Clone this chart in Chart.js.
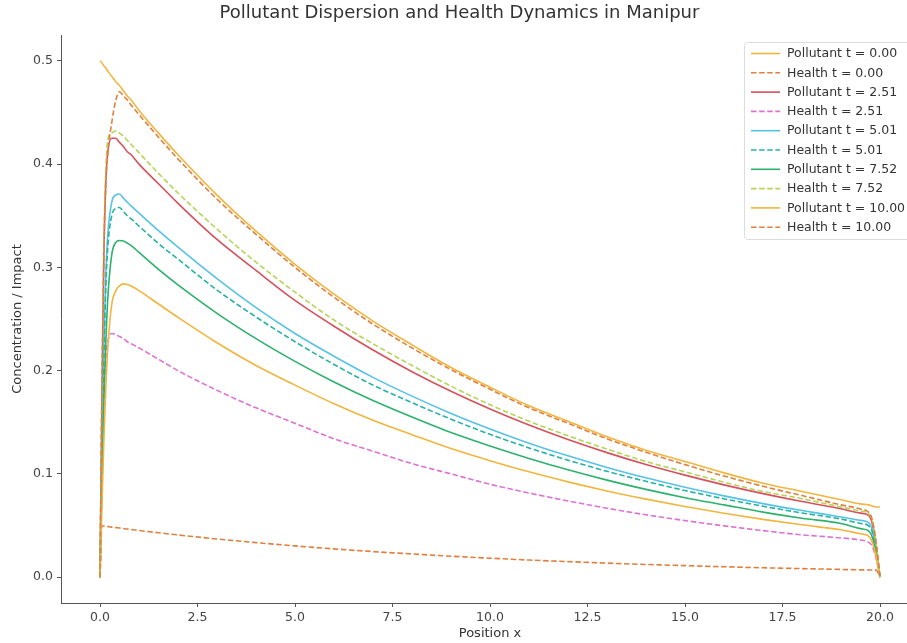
<!DOCTYPE html>
<html>
<head>
<meta charset="utf-8">
<script src="https://cdn.jsdelivr.net/npm/chart.js@4.4.1/dist/chart.umd.min.js"></script>
<style>
  html, body { margin: 0; padding: 0; background: #fff; overflow: hidden; }
  #wrap { width: 907px; height: 643px; overflow: hidden; }
  canvas { display: block; }
</style>
</head>
<body>
<div id="wrap"><canvas id="chart" width="943" height="643"></canvas></div>
<script>
// positions along x shared by every series
const positions = [0, 0.05, 0.1, 0.15, 0.2, 0.3, 0.4, 0.5, 0.6, 0.7, 0.8, 1, 1.5, 2, 3, 4, 5, 6, 7, 8, 9, 10,
    11, 12, 13, 14, 15, 16, 17, 18, 19, 19.5, 19.7, 19.8, 19.9, 20];

const pollutant0 = [0.500, 0.498, 0.495, 0.493, 0.490, 0.485, 0.480, 0.476, 0.471, 0.466, 0.462, 0.452, 0.430, 0.409,
    0.370, 0.335, 0.303, 0.274, 0.248, 0.225, 0.203, 0.184, 0.166, 0.151, 0.136, 0.123, 0.112, 0.101, 0.091, 0.083,
    0.075, 0.071, 0.070, 0.069, 0.068, 0.068];
const health0 = [0, 0.0498, 0.0495, 0.0493, 0.049, 0.0485, 0.048, 0.0476, 0.0471, 0.0466, 0.0462, 0.0452, 0.043, 0.0409,
    0.037, 0.0335, 0.0303, 0.0274, 0.0248, 0.0225, 0.0203, 0.0184, 0.0166, 0.0151, 0.0136, 0.0123, 0.0112, 0.0101,
    0.0091, 0.0083, 0.0075, 0.0071, 0.007, 0.0069, 0.0068, 0];
const pollutant251 = [0, 0.176, 0.315, 0.384, 0.412, 0.425, 0.425, 0.421, 0.417, 0.412, 0.409, 0.400, 0.381, 0.362,
    0.327, 0.297, 0.268, 0.243, 0.220, 0.199, 0.180, 0.1628, 0.1473, 0.1333, 0.1206, 0.1091, 0.0988, 0.0894, 0.0809,
    0.0732, 0.0662, 0.062, 0.060, 0.052, 0.030, 0];
const health251 = [0, 0.098, 0.175, 0.212, 0.228, 0.236, 0.235, 0.233, 0.231, 0.228, 0.226, 0.222, 0.211, 0.200,
    0.181, 0.164, 0.149, 0.134, 0.122, 0.110, 0.100, 0.090, 0.0815, 0.0738, 0.0668, 0.0604, 0.0548, 0.0497, 0.0451,
    0.041, 0.038, 0.036, 0.034, 0.030, 0.018, 0];
const pollutant501 = [0, 0.124, 0.224, 0.293, 0.332, 0.363, 0.370, 0.371, 0.367, 0.363, 0.3595, 0.3525, 0.3355, 0.3195,
    0.289, 0.261, 0.236, 0.214, 0.1935, 0.1753, 0.1586, 0.1435, 0.1298, 0.1175, 0.1063, 0.0962, 0.087, 0.0787, 0.0712,
    0.0645, 0.0583, 0.055, 0.053, 0.046, 0.027, 0];
const health501 = [0, 0.120, 0.216, 0.282, 0.320, 0.350, 0.357, 0.358, 0.354, 0.350, 0.347, 0.340, 0.323, 0.308,
    0.278, 0.252, 0.228, 0.206, 0.186, 0.169, 0.153, 0.1383, 0.1252, 0.1133, 0.1025, 0.0928, 0.0839, 0.0759, 0.0687,
    0.0622, 0.0563, 0.052, 0.050, 0.044, 0.026, 0];
const pollutant752 = [0, 0.093, 0.171, 0.228, 0.270, 0.312, 0.324, 0.326, 0.3255, 0.3235, 0.321, 0.3145, 0.298, 0.283,
    0.2555, 0.231, 0.209, 0.189, 0.171, 0.155, 0.140, 0.127, 0.115, 0.104, 0.094, 0.085, 0.077, 0.070, 0.063, 0.057,
    0.052, 0.047, 0.045, 0.039, 0.023, 0];
const health752 = [0, 0.181, 0.324, 0.395, 0.424, 0.430, 0.432, 0.430, 0.427, 0.423, 0.419, 0.411, 0.391, 0.372,
    0.337, 0.305, 0.276, 0.249, 0.226, 0.205, 0.185, 0.167, 0.151, 0.137, 0.124, 0.112, 0.102, 0.092, 0.083, 0.076,
    0.068, 0.064, 0.062, 0.055, 0.033, 0];
const pollutant10 = [0, 0.070, 0.133, 0.184, 0.222, 0.264, 0.277, 0.282, 0.284, 0.2835, 0.282, 0.2775, 0.2645, 0.2515,
    0.227, 0.205, 0.186, 0.168, 0.152, 0.138, 0.1245, 0.1128, 0.102, 0.0923, 0.0835, 0.0756, 0.0684, 0.0619, 0.056,
    0.0507, 0.0459, 0.042, 0.040, 0.034, 0.020, 0];
const health10 = [0, 0.18, 0.31, 0.38, 0.41, 0.440, 0.461, 0.470, 0.466, 0.462, 0.457, 0.448, 0.426, 0.405,
    0.366, 0.332, 0.300, 0.271, 0.245, 0.222, 0.201, 0.182, 0.164, 0.149, 0.134, 0.121, 0.109, 0.098, 0.088, 0.079,
    0.070, 0.066, 0.063, 0.056, 0.034, 0];

const xTicks = [0, 2.5, 5, 7.5, 10, 12.5, 15, 17.5, 20];
const yTicks = [0, 0.1, 0.2, 0.3, 0.4, 0.5];

const seriesList = [
    { label: 'Pollutant t = 0.00', values: pollutant0, color: '#f2b53d', dashed: false },
    { label: 'Health t = 0.00', values: health0, color: '#e0803f', dashed: true },
    { label: 'Pollutant t = 2.51', values: pollutant251, color: '#d6505e', dashed: false },
    { label: 'Health t = 2.51', values: health251, color: '#de72d2', dashed: true },
    { label: 'Pollutant t = 5.01', values: pollutant501, color: '#55c3e6', dashed: false },
    { label: 'Health t = 5.01', values: health501, color: '#27b2a5', dashed: true },
    { label: 'Pollutant t = 7.52', values: pollutant752, color: '#2cb26c', dashed: false },
    { label: 'Health t = 7.52', values: health752, color: '#b6d558', dashed: true },
    { label: 'Pollutant t = 10.00', values: pollutant10, color: '#f2b53d', dashed: false },
    { label: 'Health t = 10.00', values: health10, color: '#e0803f', dashed: true }
];

const DASH = [5.5, 2.6];
const FONT = 'DejaVu Sans';

// legend drawn inside the plot, upper right, like matplotlib
const insideLegend = {
    id: 'insideLegend',
    afterDraw(chart) {
        const ctx = chart.ctx;
        const area = chart.chartArea;
        const rowH = 19.3;
        const right = area.right - 6;
        const left = 744;
        const top = area.top + 7;
        const height = rowH * chart.data.datasets.length + 4;
        ctx.save();
        ctx.fillStyle = 'rgba(255,255,255,0.85)';
        ctx.strokeStyle = '#dddddd';
        ctx.lineWidth = 1;
        ctx.beginPath();
        ctx.roundRect(left + 0.5, top + 0.5, right - left, height, 3);
        ctx.fill();
        ctx.stroke();
        ctx.font = '12.5px "' + FONT + '"';
        ctx.textBaseline = 'middle';
        chart.data.datasets.forEach((ds, i) => {
            const y = top + 11.5 + i * rowH;
            ctx.strokeStyle = ds.borderColor;
            ctx.lineWidth = 1.6;
            ctx.setLineDash(ds.borderDash || []);
            ctx.beginPath();
            ctx.moveTo(751, y);
            ctx.lineTo(780, y);
            ctx.stroke();
            ctx.setLineDash([]);
            ctx.fillStyle = '#333333';
            ctx.fillText(ds.label, 787, y + 0.5);
        });
        ctx.restore();
    }
};

const datasets = seriesList.map((s, i) => ({
    label: s.label,
    data: positions.map((x, j) => ({ x: x, y: s.values[j] })),
    borderColor: s.color,
    backgroundColor: s.color,
    borderWidth: 1.6,
    borderDash: s.dashed ? DASH : [],
    pointRadius: 0,
    fill: false,
    cubicInterpolationMode: 'monotone',
    order: seriesList.length - i
}));

new Chart(document.getElementById('chart'), {
    type: 'line',
    data: { datasets: datasets },
    options: {
        responsive: false,
        animation: false,
        layout: { padding: { left: 0, right: 24, top: 0, bottom: 0 } },
        plugins: {
            legend: { display: false },
            tooltip: { enabled: false },
            title: {
                display: true,
                text: 'Pollutant Dispersion and Health Dynamics in Manipur',
                color: '#333333',
                font: { family: FONT, size: 18, weight: 'normal' },
                padding: { top: 3, bottom: 10.4 }
            }
        },
        scales: {
            x: {
                type: 'linear',
                min: -1,
                max: 21,
                afterFit: (scale) => { scale.height = 40; },
                afterBuildTicks: (scale) => { scale.ticks = xTicks.map(v => ({ value: v })); },
                ticks: {
                    color: '#444444',
                    font: { family: FONT, size: 12.5 },
                    padding: 3,
                    maxRotation: 0,
                    callback: (v) => Number(v).toFixed(1)
                },
                grid: { drawOnChartArea: false, drawTicks: true, tickLength: 4, color: '#555555' },
                border: { display: true, color: '#555555', width: 1 },
                title: {
                    display: true,
                    text: 'Position x',
                    color: '#333333',
                    font: { family: FONT, size: 13 },
                    padding: { top: 0, bottom: 2 }
                }
            },
            y: {
                type: 'linear',
                min: -0.025,
                max: 0.525,
                afterFit: (scale) => { scale.width = 61; },
                afterBuildTicks: (scale) => { scale.ticks = yTicks.map(v => ({ value: v })); },
                ticks: {
                    color: '#444444',
                    font: { family: FONT, size: 12.5 },
                    padding: 4,
                    callback: (v) => Number(v).toFixed(1)
                },
                grid: { drawOnChartArea: false, drawTicks: true, tickLength: 4, color: '#555555' },
                border: { display: true, color: '#555555', width: 1 },
                title: {
                    display: true,
                    text: 'Concentration / Impact',
                    color: '#333333',
                    font: { family: FONT, size: 13 },
                    padding: { top: 10, bottom: 0 }
                }
            }
        }
    },
    plugins: [insideLegend]
});
</script>
</body>
</html>
